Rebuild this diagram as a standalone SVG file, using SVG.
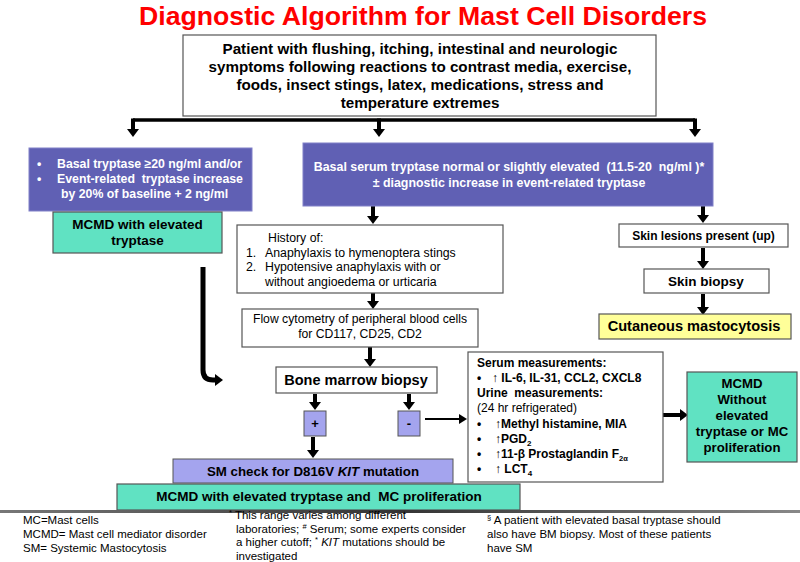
<svg xmlns="http://www.w3.org/2000/svg" width="800" height="562" viewBox="0 0 800 562">
<defs>
<marker id="ah" markerUnits="userSpaceOnUse" markerWidth="12" markerHeight="12" refX="0" refY="6" orient="auto">
<path d="M0,0 L8,6 L0,12 z" fill="#000"/>
</marker>
<marker id="ahs" markerUnits="userSpaceOnUse" markerWidth="10" markerHeight="10" refX="0" refY="5" orient="auto">
<path d="M0,0 L8,5 L0,10 z" fill="#000"/>
</marker>
<linearGradient id="rule" x1="0" y1="0" x2="1" y2="0">
<stop offset="0" stop-color="#777"/>
<stop offset="0.5" stop-color="#333"/>
<stop offset="1" stop-color="#888"/>
</linearGradient>
</defs>
<style>
text{font-family:"Liberation Sans",Arial,sans-serif;fill:#000}
.b{font-weight:bold}
.w{fill:#fff}
.box{fill:#fff;stroke:#555;stroke-width:1.2}
.pur{fill:#6060b4;stroke:#8080c8;stroke-width:1}
.lp{fill:#a4a4ee;stroke:#555;stroke-width:1}
.grn{fill:#60e2c2;stroke:#555;stroke-width:1.2}
.yel{fill:#ffff99;stroke:#555;stroke-width:1.2}
.arr{stroke:#000;stroke-width:4;fill:none;marker-end:url(#ah)}
.arrt{stroke:#000;stroke-width:2;fill:none;marker-end:url(#ahs)}
.fn{font-size:11.5px}
.sup{font-size:7.5px;baseline-shift:4px}
.c{text-anchor:middle}
</style>

<text x="423" y="25" class="b c" font-size="26" style="fill:#ff0000" textLength="568" lengthAdjust="spacingAndGlyphs">Diagnostic Algorithm for Mast Cell Disorders</text>

<g id="connectors">
<path d="M133,120 H695" stroke="#000" stroke-width="3.5" fill="none"/>
<path class="arr" d="M133,118.5 V129"/>
<path class="arr" d="M379,118.5 V129"/>
<path class="arr" d="M695,118.5 V129"/>
<path class="arr" d="M373,206 V216"/>
<path class="arr" d="M373,293 V301"/>
<path class="arr" d="M370,347 V359"/>
<path class="arr" d="M703,206 V215"/>
<path class="arr" d="M703,248 V261"/>
<path class="arr" d="M703,294 V307"/>
<path d="M203,267 V370 Q203,380 213,380 H215" stroke="#000" stroke-width="5" fill="none" marker-end="url(#ah)"/>
<path class="arr" d="M315,394 V402"/>
<path class="arr" d="M409,394 V402"/>
<path class="arr" d="M313,437 V450"/>
<path class="arrt" d="M425,419 H459"/>
<path class="arr" d="M663,415 H680"/>
</g>

<g id="n_patient">
<rect class="box" x="183" y="35" width="473" height="81"/>
<text class="b c" font-size="15.2" x="420" y="54">Patient with flushing, itching, intestinal and neurologic</text>
<text class="b c" font-size="15.2" x="420" y="72">symptoms following reactions to contrast media, exercise,</text>
<text class="b c" font-size="15.2" x="420" y="90">foods, insect stings, latex, medications, stress and</text>
<text class="b c" font-size="15.2" x="420" y="108">temperature extremes</text>
</g>

<g id="n_basal_high">
<rect class="pur" x="29" y="148" width="223" height="63"/>
<text class="b w" font-size="12.3" x="37" y="168">•</text>
<text class="b w" font-size="12.3" x="57" y="168">Basal tryptase ≥20 ng/ml and/or</text>
<text class="b w" font-size="12.3" x="37" y="183">•</text>
<text class="b w" font-size="12.3" x="57" y="183" xml:space="preserve">Event-related  tryptase increase</text>
<text class="b w" font-size="12.3" x="61" y="198">by 20% of baseline + 2 ng/ml</text>
</g>

<g id="n_mcmd_elev">
<rect class="grn" x="53" y="212" width="169" height="41"/>
<text class="b c" font-size="13.5" x="137.5" y="229">MCMD with elevated</text>
<text class="b c" font-size="13.5" x="137.5" y="245">tryptase</text>
</g>

<g id="n_basal_normal">
<rect class="pur" x="303" y="143" width="410" height="63"/>
<text class="b w c" font-size="12.4" x="509" y="171" xml:space="preserve">Basal serum tryptase normal or slightly elevated  (11.5-20  ng/ml )*</text>
<text class="b w c" font-size="12.4" x="509" y="187">± diagnostic increase in event-related tryptase</text>
</g>

<g id="n_history">
<rect class="box" x="237" y="225" width="266" height="68"/>
<text font-size="12.3" x="268" y="242">History of:</text>
<text font-size="12.3" x="246" y="257">1.</text>
<text font-size="12.3" x="265" y="257">Anaphylaxis to hymenoptera stings</text>
<text font-size="12.3" x="246" y="271">2.</text>
<text font-size="12.3" x="265" y="271">Hypotensive anaphylaxis with or</text>
<text font-size="12.3" x="265" y="286">without angioedema or urticaria</text>
</g>

<g id="n_flow">
<rect class="box" x="242" y="309" width="236" height="38"/>
<text class="c" font-size="12.2" x="360" y="323">Flow cytometry of peripheral blood cells</text>
<text class="c" font-size="12.2" x="360" y="338">for CD117, CD25, CD2</text>
</g>

<g id="n_bm">
<rect class="box" x="276" y="367" width="161" height="26"/>
<text class="b c" font-size="14.5" x="356" y="385">Bone marrow biopsy</text>
</g>

<g id="n_plus">
<rect class="lp" x="304" y="411" width="22" height="25"/>
<text class="b c" font-size="13" x="315" y="428">+</text>
</g>

<g id="n_minus">
<rect class="lp" x="398" y="411" width="22" height="25"/>
<text class="b c" font-size="13" x="409" y="428">-</text>
</g>

<g id="n_smcheck">
<rect class="lp" x="173" y="459" width="280" height="24"/>
<text class="b c" font-size="13.3" x="313" y="476">SM check for D816V <tspan font-style="italic">KIT</tspan> mutation</text>
</g>

<g id="n_mcmd_prolif">
<rect class="grn" x="117" y="484" width="403" height="26"/>
<text class="b c" font-size="13.5" x="319" y="501" xml:space="preserve">MCMD with elevated tryptase and  MC proliferation</text>
</g>

<g id="n_serum">
<rect class="box" x="468" y="352" width="195" height="130"/>
<text class="b" font-size="12" x="477" y="367">Serum measurements:</text>
<text class="b" font-size="12" x="477" y="382">•</text>
<text class="b" font-size="12" x="492" y="382">↑ IL-6, IL-31, CCL2, CXCL8</text>
<text class="b" font-size="12" x="477" y="397" xml:space="preserve">Urine  measurements:</text>
<text font-size="12" x="477" y="412">(24 hr refrigerated)</text>
<text class="b" font-size="12" x="477" y="428">•</text>
<text class="b" font-size="12" x="495" y="428">↑Methyl histamine, MIA</text>
<text class="b" font-size="12" x="477" y="443">•</text>
<text class="b" font-size="12" x="495" y="443">↑PGD<tspan font-size="8" dy="3">2</tspan></text>
<text class="b" font-size="12" x="477" y="458">•</text>
<text class="b" font-size="12" x="495" y="458">↑11-β Prostaglandin F<tspan font-size="7.5" dy="3">2α</tspan></text>
<text class="b" font-size="12" x="477" y="473">•</text>
<text class="b" font-size="12" x="495" y="473">↑ LCT<tspan font-size="8" dy="3">4</tspan></text>
</g>

<g id="n_mcmd_without">
<rect class="grn" x="687" y="372" width="110" height="90"/>
<text class="b c" font-size="13.2" x="742" y="388">MCMD</text>
<text class="b c" font-size="13.2" x="742" y="404">Without</text>
<text class="b c" font-size="13.2" x="742" y="420">elevated</text>
<text class="b c" font-size="13.2" x="742" y="436">tryptase or MC</text>
<text class="b c" font-size="13.2" x="742" y="452">proliferation</text>
</g>

<g id="n_skin_lesions">
<rect class="box" x="619" y="224" width="169" height="23"/>
<text class="b c" font-size="12" x="703.5" y="240">Skin lesions present (up)</text>
</g>

<g id="n_skin_biopsy">
<rect class="box" x="644" y="269" width="125" height="24"/>
<text class="b c" font-size="13.5" x="706" y="286">Skin biopsy</text>
</g>

<g id="n_cutaneous">
<rect class="yel" x="599" y="314" width="192" height="25"/>
<text class="b c" font-size="14.6" x="694" y="331">Cutaneous mastocytosis</text>
</g>

<rect x="0" y="510" width="800" height="3" fill="url(#rule)"/>

<g id="footnotes">
<text class="fn" x="23" y="524">MC=Mast cells</text>
<text class="fn" x="23" y="538">MCMD= Mast cell mediator disorder</text>
<text class="fn" x="23" y="552">SM= Systemic Mastocytosis</text>
<text class="fn" x="229" y="519"><tspan class="sup">*</tspan> This range varies among different</text>
<text class="fn" x="236" y="532.5">laboratories; <tspan class="sup">#</tspan> Serum; some experts consider</text>
<text class="fn" x="236" y="546">a higher cutoff; <tspan class="sup">*</tspan> <tspan font-style="italic">KIT</tspan> mutations should be</text>
<text class="fn" x="236" y="559.5">investigated</text>
<text class="fn" x="487" y="524"><tspan class="sup">§</tspan>  A patient with elevated basal tryptase should</text>
<text class="fn" x="487" y="538">also have BM biopsy. Most of these patients</text>
<text class="fn" x="487" y="552">have SM</text>
</g>
</svg>
